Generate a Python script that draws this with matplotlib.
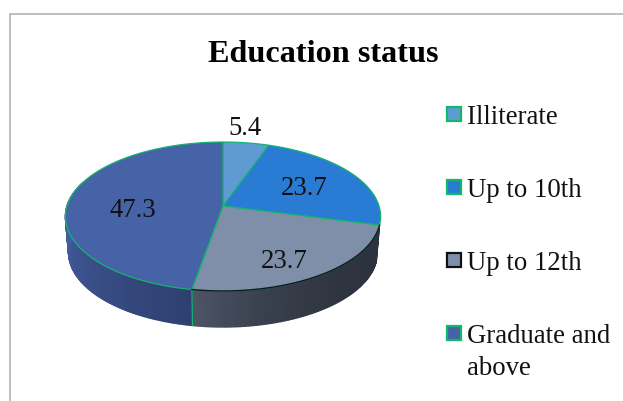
import numpy as np
import matplotlib
matplotlib.use("Agg")
from matplotlib import pyplot as plt
from matplotlib.colors import to_rgb
from matplotlib.patches import Polygon, Rectangle

categories = ["Illiterate", "Up to 10th", "Up to 12th", "Graduate and\nabove"]
values = [5.4, 23.7, 23.7, 47.3]
colors = ["#5f9bd2", "#2a7bd3", "#7f8ea9", "#4663a8"]
edges = ["#12b76a", "#12b76a", "#111111", "#12b76a"]

GREEN = "#14b46e"
CX, APEX_Y, R = 223, 207, 156
DEPTH = 36

plt.rcParams["font.family"] = ["Liberation Serif", "DejaVu Serif"]


def rim(t):
    """Perspective projection of a circle, t in degrees clockwise from the top."""
    t = np.radians(t)
    u, v = np.sin(t), np.cos(t)
    w = 1 + 0.141 * v
    return CX + R * u / w, (APEX_Y - 43.8 * v) / w


def lower_rim(t):
    x, y = rim(t)
    return CX + (x - CX) * 0.98, y + DEPTH


def mix(a, b, f):
    a, b = np.array(to_rgb(a)), np.array(to_rgb(b))
    return tuple(a + (b - a) * f)


def draw_wall(ax, t0, t1, color_stops, power=1.0):
    ts = np.linspace(t0, t1, 90)
    for a, b in zip(ts[:-1], ts[1:]):
        xa, ya = rim(a)
        xb, yb = rim(b)
        xc, yc = lower_rim(b)
        xd, yd = lower_rim(a)
        f = ((a - t0) / (t1 - t0)) ** power
        c = mix(*color_stops, f)
        ax.add_patch(Polygon([(xa, ya), (xb, yb), (xc, yc), (xd, yd)], fc=c, ec=c, lw=1.0, zorder=1))


fig = plt.figure(figsize=(6.23, 4.02), dpi=100)
ax = fig.add_axes([0, 0, 1, 1])
ax.set_xlim(0, 623)
ax.set_ylim(402, 0)
ax.axis("off")

# chart border, only left and top are inside the crop
ax.plot([10, 10, 623], [402, 15, 15], color="#b3b3b3", lw=1.2, zorder=0)

ax.text(323, 54, "Education status", ha="center", va="center", fontsize=23.2, fontweight="bold", color="#000000")

stops = np.cumsum([0] + values) / sum(values) * 360

# side walls
seam = stops[3]
draw_wall(ax, stops[2], seam, ("#2d333e", "#4e5667"), power=3.0)
draw_wall(ax, seam, 290, ("#2f3f70", "#4a66ac"))
x0, y0 = rim(seam)
x1, y1 = lower_rim(seam)
ax.plot([x0, x1], [y0, y1], color=GREEN, lw=0.9, zorder=2)

# top face
for start, end, color in zip(stops[:-1], stops[1:], colors):
    ts = np.linspace(start, end, 120)
    xs, ys = rim(ts)
    pts = np.column_stack([np.r_[CX, xs], np.r_[APEX_Y, ys]])
    ax.add_patch(Polygon(pts, closed=True, fc=color, ec=GREEN, lw=0.9, zorder=3))

# dark front rim on the grey slice
xs, ys = rim(np.linspace(stops[2], stops[3], 120))
ax.plot(xs, ys, color="#15181f", lw=1.0, zorder=4)

label_x = [245, 304, 284, 133]
label_y = [129, 189, 262, 211]
for x, y, v in zip(label_x, label_y, values):
    ax.text(x, y, f"{v:.1f}", ha="center", va="center", fontsize=19.3, color="#111111", zorder=5)

# legend
legend_y = [115, 188, 261, 334]
for y, name, color, edge in zip(legend_y, categories, colors, edges):
    ax.add_patch(Rectangle((447, y - 7), 14, 14, fc=color, ec=edge, lw=1.6))
    ax.text(467, y - 10, name, ha="left", va="top", fontsize=19.3, color="#111111", linespacing=1.36)

fig.savefig("out.png", dpi=100)
